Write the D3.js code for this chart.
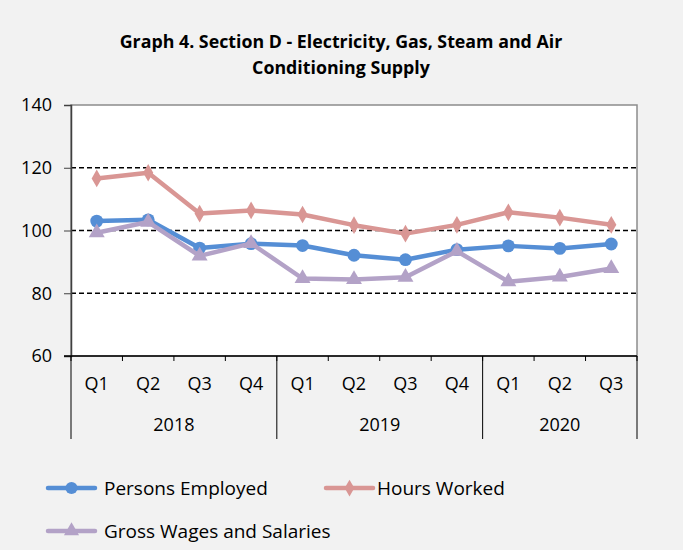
<!DOCTYPE html>
<html>
<head>
<meta charset="utf-8">
<script src="https://cdn.jsdelivr.net/npm/d3@7"></script>
<style>
  body { margin: 0; background: #f2f2f2; }
  svg { display: block; font-family: "Open Sans", sans-serif; }
</style>
</head>
<body>
<svg width="683" height="550"></svg>
<script>
var quarters = ["Q1", "Q2", "Q3", "Q4", "Q1", "Q2", "Q3", "Q4", "Q1", "Q2", "Q3"];
var years = [
  { label: "2018", n: 4 },
  { label: "2019", n: 4 },
  { label: "2020", n: 3 }
];
var personsEmployed = [103.0, 103.4, 94.4, 95.8, 95.2, 92.1, 90.7, 93.9, 95.1, 94.3, 95.7];
var hoursWorked = [116.6, 118.4, 105.4, 106.4, 105.1, 101.7, 99.0, 101.8, 105.8, 104.1, 101.8];
var grossWages = [99.3, 102.7, 91.9, 95.9, 84.7, 84.4, 85.1, 93.4, 83.7, 85.2, 87.9];
var yTicks = [60, 80, 100, 120, 140];

var series = [
  { name: "Persons Employed", values: personsEmployed, color: "#558ed5", marker: d3.symbolCircle, size: 130 },
  { name: "Hours Worked", values: hoursWorked, color: "#d99694", marker: d3.symbolDiamond, size: 90 },
  { name: "Gross Wages and Salaries", values: grossWages, color: "#b3a2c7", marker: d3.symbolTriangle, size: 110 }
];

var svg = d3.select("svg");
var pLeft = 71, pRight = 637, pTop = 105, pBottom = 356;

var x = d3.scaleBand().domain(d3.range(quarters.length)).range([pLeft, pRight]);
var y = d3.scaleLinear().domain([60, 140]).range([pBottom, pTop]);

// title
svg.append("text").attr("x", 341).attr("y", 48).attr("text-anchor", "middle")
  .attr("font-size", 17.8).attr("font-weight", "bold").text("Graph 4. Section D - Electricity, Gas, Steam and Air");
svg.append("text").attr("x", 341).attr("y", 74).attr("text-anchor", "middle")
  .attr("font-size", 17.8).attr("font-weight", "bold").text("Conditioning Supply");

// plot area
svg.append("rect").attr("x", pLeft).attr("y", pTop).attr("width", pRight - pLeft).attr("height", pBottom - pTop)
  .attr("fill", "#fff").attr("stroke", "#8c8c8c").attr("stroke-width", 1.5);

// gridlines
svg.append("g").selectAll("line").data(yTicks.filter(function(d) { return d > 60 && d < 140; }))
  .enter().append("line")
  .attr("x1", pLeft).attr("x2", pRight)
  .attr("y1", function(d) { return y(d); }).attr("y2", function(d) { return y(d); })
  .attr("stroke", "#000").attr("stroke-width", 1.5).attr("stroke-dasharray", "5,3");

// y axis
var yAxis = svg.append("g").attr("transform", "translate(" + pLeft + ",0)")
  .call(d3.axisLeft(y).tickValues(yTicks).tickSize(7).tickPadding(12));
yAxis.select(".domain").attr("stroke", "#404040").attr("stroke-width", 1.5);
yAxis.selectAll(".tick line").attr("stroke", "#404040");
yAxis.selectAll("text").attr("font-size", 18).attr("fill", "#000").attr("font-family", "Open Sans, sans-serif");

// x axis
var xg = svg.append("g");
xg.append("line").attr("x1", pLeft - 7).attr("x2", pRight).attr("y1", pBottom).attr("y2", pBottom)
  .attr("stroke", "#000").attr("stroke-width", 1.5);
xg.selectAll(".tick").data(d3.range(quarters.length + 1)).enter().append("line")
  .attr("x1", function(i) { return pLeft + i * x.step(); })
  .attr("x2", function(i) { return pLeft + i * x.step(); })
  .attr("y1", pBottom).attr("y2", pBottom + 5)
  .attr("stroke", "#000").attr("stroke-width", 1);
xg.selectAll(".ql").data(quarters).enter().append("text")
  .attr("x", function(d, i) { return x(i) + x.bandwidth() / 2; })
  .attr("y", 390).attr("text-anchor", "middle").attr("font-size", 18).text(function(d) { return d; });

var start = 0;
years.forEach(function(yr) {
  var x0 = pLeft + start * x.step(), x1 = pLeft + (start + yr.n) * x.step();
  xg.append("line").attr("x1", x0).attr("x2", x0).attr("y1", pBottom).attr("y2", 439)
    .attr("stroke", "#000").attr("stroke-width", 1);
  xg.append("text").attr("x", (x0 + x1) / 2).attr("y", 431).attr("text-anchor", "middle")
    .attr("font-size", 18).text(yr.label);
  start += yr.n;
});
xg.append("line").attr("x1", pRight).attr("x2", pRight).attr("y1", pBottom).attr("y2", 439)
  .attr("stroke", "#000").attr("stroke-width", 1);

// lines
var line = d3.line()
  .x(function(d, i) { return x(i) + x.bandwidth() / 2; })
  .y(function(d) { return y(d); });

series.forEach(function(s) {
  svg.append("path").datum(s.values).attr("d", line)
    .attr("fill", "none").attr("stroke", s.color).attr("stroke-width", 4.5)
    .attr("stroke-linejoin", "round");
  svg.append("g").selectAll("path").data(s.values).enter().append("path")
    .attr("d", d3.symbol().type(s.marker).size(s.size))
    .attr("transform", function(d, i) { return "translate(" + (x(i) + x.bandwidth() / 2) + "," + y(d) + ")"; })
    .attr("fill", s.color);
});

// legend
var legendPos = [[48, 488, 56], [326, 488, 51], [48, 531, 56]];
series.forEach(function(s, i) {
  var p = legendPos[i];
  var g = svg.append("g").attr("transform", "translate(" + p[0] + "," + p[1] + ")");
  g.append("line").attr("x1", 0).attr("x2", 47).attr("stroke", s.color).attr("stroke-width", 4.5)
    .attr("stroke-linecap", "round");
  g.append("path").attr("d", d3.symbol().type(s.marker).size(s.size * 0.9))
    .attr("transform", "translate(23.5,0)").attr("fill", s.color);
  g.append("text").attr("x", p[2]).attr("y", 7).attr("font-size", 19).text(s.name);
});
</script>
</body>
</html>
